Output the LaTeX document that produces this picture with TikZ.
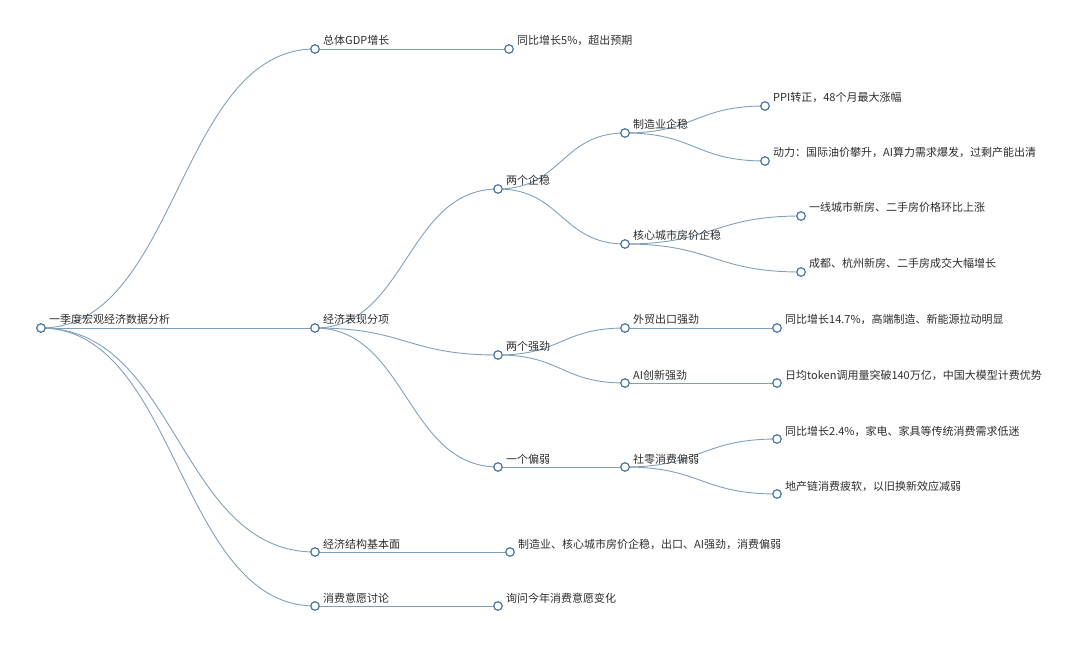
\documentclass[tikz,border=0pt]{standalone}
\usepackage{fontspec}
\setmainfont{Noto Sans CJK SC}
\usetikzlibrary{calc,backgrounds}
\definecolor{dotc}{RGB}{74,118,160}
\definecolor{linec}{RGB}{128,160,186}
\definecolor{txtc}{RGB}{45,45,45}
\tikzset{
  dot/.style={circle,draw=dotc,fill=white,line width=1.2pt,minimum size=8.5pt,inner sep=0pt},
  conn/.style={draw=linec,line width=0.9pt},
  lbl/.style={anchor=base west,inner sep=0pt,text=txtc,font=\fontsize{11pt}{13pt}\selectfont}
}
\newcommand\mmnode[4]{% name, x, y, text
  \node[dot] (#1) at (#2,#3) {};
  \node[lbl] (#1-t) at ([xshift=8pt,yshift=4pt]#1.center) {#4};
}
\newcommand\mmedge[2]{%
  \draw[conn] let \p1=(#1.center), \p2=(#2.center) in
    (\p1) .. controls ({0.5*\x1+0.5*\x2},\y1) and ({0.5*\x1+0.5*\x2},\y2) .. (\p2);
}
\begin{document}
\begin{tikzpicture}[x=1pt,y=-1pt]
\useasboundingbox (0,0) rectangle (1080,647);
\mmnode{r}{41}{328}{一季度宏观经济数据分析}
\mmnode{g}{315}{49}{总体GDP增长}
\mmnode{ga}{509}{49}{同比增长5\%，超出预期}
\mmnode{e}{315}{328}{经济表现分项}
\mmnode{s}{315}{552}{经济结构基本面}
\mmnode{sa}{510}{552}{制造业、核心城市房价企稳，出口、AI强劲，消费偏弱}
\mmnode{c}{315}{606}{消费意愿讨论}
\mmnode{ca}{498}{606}{询问今年消费意愿变化}
\mmnode{q}{498}{189}{两个企稳}
\mmnode{m}{625}{133}{制造业企稳}
\mmnode{ma}{765}{106}{PPI转正，48个月最大涨幅}
\mmnode{mb}{765}{161}{动力：国际油价攀升，AI算力需求爆发，过剩产能出清}
\mmnode{h}{625}{244}{核心城市房价企稳}
\mmnode{ha}{801}{216}{一线城市新房、二手房价格环比上涨}
\mmnode{hb}{801}{272}{成都、杭州新房、二手房成交大幅增长}
\mmnode{st}{498}{355}{两个强劲}
\mmnode{ta}{625}{328}{外贸出口强劲}
\mmnode{taa}{777}{328}{同比增长14.7\%，高端制造、新能源拉动明显}
\mmnode{tb}{625}{383}{AI创新强劲}
\mmnode{tba}{777}{383}{日均token调用量突破140万亿，中国大模型计费优势}
\mmnode{w}{498}{467}{一个偏弱}
\mmnode{wa}{625}{467}{社零消费偏弱}
\mmnode{waa}{777}{439}{同比增长2.4\%，家电、家具等传统消费需求低迷}
\mmnode{wab}{777}{494}{地产链消费疲软，以旧换新效应减弱}
\begin{scope}[on background layer]
\mmedge{r}{g}
\mmedge{r}{e}
\mmedge{r}{s}
\mmedge{r}{c}
\mmedge{g}{ga}
\mmedge{s}{sa}
\mmedge{c}{ca}
\mmedge{e}{q}
\mmedge{e}{st}
\mmedge{e}{w}
\mmedge{q}{m}
\mmedge{q}{h}
\mmedge{m}{ma}
\mmedge{m}{mb}
\mmedge{h}{ha}
\mmedge{h}{hb}
\mmedge{st}{ta}
\mmedge{st}{tb}
\mmedge{ta}{taa}
\mmedge{tb}{tba}
\mmedge{w}{wa}
\mmedge{wa}{waa}
\mmedge{wa}{wab}
\end{scope}
\end{tikzpicture}
\end{document}
